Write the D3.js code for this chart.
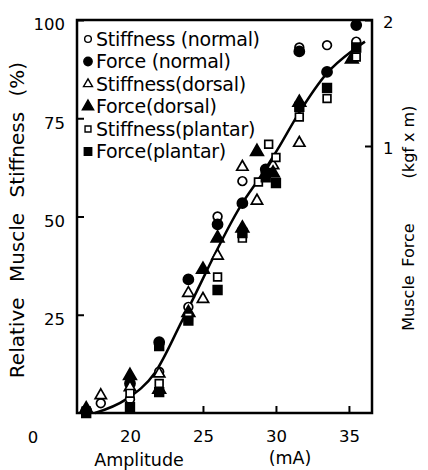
<!DOCTYPE html>
<html>
<head>
<meta charset="utf-8">
<script src="https://cdn.jsdelivr.net/npm/d3@7"></script>
<style>
  body { margin: 0; background: #fff; }
  text { font-family: "DejaVu Sans", sans-serif; fill: #000; }
</style>
</head>
<body>
<svg id="chart" width="428" height="470"></svg>
<script>
// data: [amplitude (mA), relative value (%)]
const stiffNormal = [[18, 2.5], [20, 3.5], [22, 10.5], [24, 27], [26, 50], [27.7, 59], [31.6, 93], [33.5, 93.6], [35.5, 94.5]];
const forceNormal = [[17, 0.5], [20, 7.5], [22, 18], [24, 34], [26, 48], [27.7, 53.4], [29.3, 62], [31.6, 92], [33.5, 86.8], [35.5, 98.7]];
const stiffDorsal = [[18, 4.5], [20, 6.5], [22, 10], [24, 30.5], [25, 29], [26, 40], [27.7, 62.6], [28.7, 54], [29.8, 63], [31.6, 68.7]];
const forceDorsal = [[17, 1], [20, 9.5], [22, 6], [24, 25.5], [25, 36.5], [26, 44.5], [27.7, 47], [28.7, 66.5], [29.8, 61], [31.6, 79], [35.2, 90]];
const stiffPlantar = [[17, 0.5], [20, 5], [22, 7.5], [24, 24.5], [26, 34.6], [27.7, 44.5], [28.8, 58.8], [29.5, 68.4], [30, 65], [31.6, 75.3], [33.5, 80], [35.5, 90.6]];
const forcePlantar = [[17, 0], [20, 1.5], [22, 17], [22, 5.3], [24, 23.5], [26, 31.3], [27.7, 45.8], [29.3, 60], [30, 58.5], [31.6, 77.9], [33.5, 82.7], [35.5, 93]];

// hand drawn fit curve
const fitLine = [[17.6, 0], [19.7, 3.4], [21.7, 10.2], [23.6, 23.7], [27.7, 53.4], [29, 60.5], [30.1, 67], [31.6, 76.5], [33.5, 86.5], [35.3, 92.4], [36.1, 94.5]];

const xTicks = [20, 25, 30, 35];
const yTicks = [25, 50, 75, 100];
const forceTicks = [1, 2];

const legendLabels = ["Stiffness (normal)", "Force (normal)", "Stiffness(dorsal)", "Force(dorsal)", "Stiffness(plantar)", "Force(plantar)"];

const svg = d3.select("#chart");

// frame 77..372 x 20..413
const x = d3.scaleLinear().domain([16.37, 36.58]).range([77, 372]);
const y = d3.scaleLinear().domain([0, 100]).range([413, 20]);
const yForce = d3.scaleLinear().domain([0, 2]).range([272, 20]);

// plot frame
svg.append("rect")
  .attr("x", 77).attr("y", 20)
  .attr("width", 295).attr("height", 393)
  .attr("fill", "none")
  .attr("stroke", "#000")
  .attr("stroke-width", 2.5);

// left axis, ticks pointing inwards
const gy = svg.append("g")
  .attr("transform", "translate(77,0)")
  .call(d3.axisLeft(y).tickValues(yTicks).tickSize(-7).tickPadding(12));
gy.select(".domain").remove();
gy.selectAll("line").attr("stroke-width", 2);
gy.selectAll("text").attr("font-size", 16.5).attr("dy", "0.6em");

// bottom axis
const gx = svg.append("g")
  .attr("transform", "translate(0,413)")
  .call(d3.axisBottom(x).tickValues(xTicks).tickSize(-7).tickPadding(17));
gx.select(".domain").remove();
gx.selectAll("line").attr("stroke-width", 2);
gx.selectAll("text").attr("font-size", 16.5);

// right axis (force)
const gr = svg.append("g")
  .attr("transform", "translate(372,0)")
  .call(d3.axisRight(yForce).tickValues(forceTicks).tickFormat(d3.format("d")).tickSize(-7).tickPadding(11));
gr.select(".domain").remove();
gr.selectAll("line").attr("stroke-width", 2);
gr.selectAll("text").attr("font-size", 16.5).attr("dy", "0.45em");

// lone zero under the y axis
svg.append("text")
  .attr("x", 33).attr("y", 443)
  .attr("text-anchor", "middle")
  .attr("font-size", 16.5)
  .text("0");

// axis titles
svg.append("text")
  .attr("x", 139).attr("y", 466)
  .attr("text-anchor", "middle")
  .attr("font-size", 17.5)
  .text("Amplitude");
svg.append("text")
  .attr("x", 290).attr("y", 464)
  .attr("text-anchor", "middle")
  .attr("font-size", 17.5)
  .text("(mA)");

svg.append("text")
  .attr("transform", "translate(24,220) rotate(-90)")
  .attr("text-anchor", "middle")
  .attr("font-size", 20)
  .attr("word-spacing", 9)
  .text("Relative Muscle Stiffness (%)");

// right title is set as three spaced words
const rightTitle = [["Muscle", 303], ["Force", 245], ["(kgf x m)", 142]];
rightTitle.forEach(([word, cy]) => {
  svg.append("text")
    .attr("transform", `translate(414,${cy}) rotate(-90)`)
    .attr("text-anchor", "middle")
    .attr("font-size", 16)
    .text(word);
});

// fit curve
const line = d3.line()
  .x(d => x(d[0]))
  .y(d => y(d[1]))
  .curve(d3.curveMonotoneX);

svg.append("path")
  .datum(fitLine)
  .attr("d", line)
  .attr("fill", "none")
  .attr("stroke", "#000")
  .attr("stroke-width", 2.5);

// marker styles for each series
const series = [
  { data: stiffNormal, shape: d3.symbolCircle, filled: false, size: 60 },
  { data: forceNormal, shape: d3.symbolCircle, filled: true, size: 80 },
  { data: stiffDorsal, shape: d3.symbolTriangle, filled: false, size: 55 },
  { data: forceDorsal, shape: d3.symbolTriangle, filled: true, size: 70 },
  { data: stiffPlantar, shape: d3.symbolSquare, filled: false, size: 60 },
  { data: forcePlantar, shape: d3.symbolSquare, filled: true, size: 75 }
];

series.forEach(s => {
  svg.append("g")
    .selectAll("path")
    .data(s.data)
    .join("path")
    .attr("transform", d => `translate(${x(d[0])},${y(d[1])})`)
    .attr("d", d3.symbol().type(s.shape).size(s.size))
    .attr("fill", s.filled ? "#000" : "#fff")
    .attr("stroke", "#000")
    .attr("stroke-width", 1.7);
});

// legend in the top left corner
const legend = svg.append("g").attr("transform", "translate(88,39)");
legendLabels.forEach((label, i) => {
  const s = series[i];
  const row = legend.append("g").attr("transform", `translate(0,${i * 22.5})`);
  row.append("path")
    .attr("d", d3.symbol().type(s.shape).size(s.filled ? 55 : 35))
    .attr("fill", s.filled ? "#000" : "#fff")
    .attr("stroke", "#000")
    .attr("stroke-width", 1.4);
  row.append("text")
    .attr("x", 8)
    .attr("dy", "0.36em")
    .attr("font-size", 19)
    .attr("letter-spacing", -0.3)
    .text(label);
});
</script>
</body>
</html>
